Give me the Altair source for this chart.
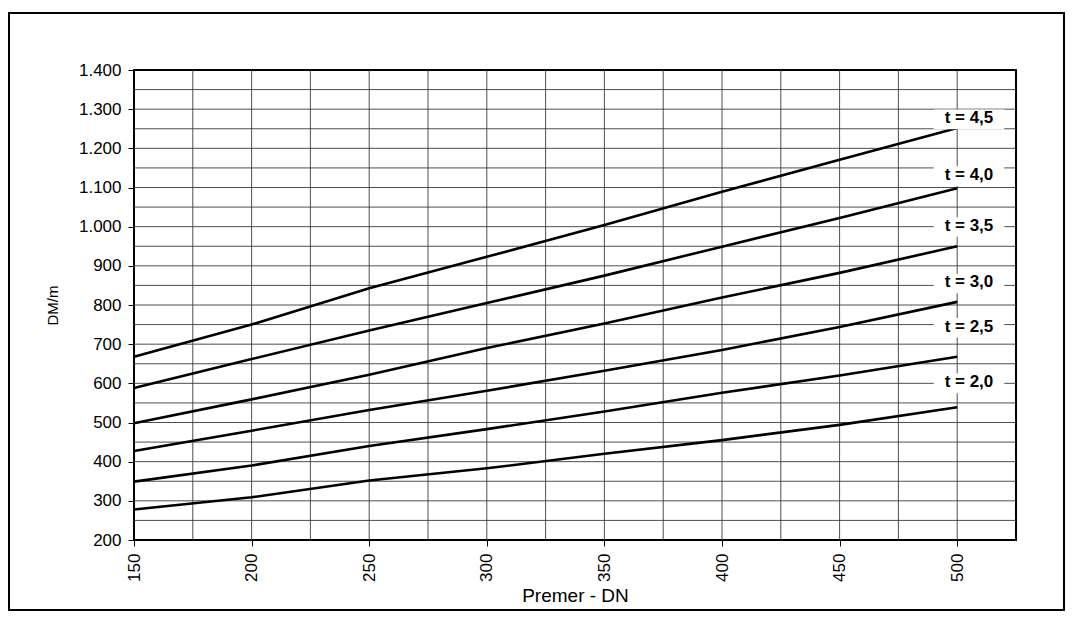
import altair as alt
import pandas as pd

# ---- data ----
dn = [150, 200, 250, 300, 350, 400, 450, 500]
t_20 = [278, 309, 352, 383, 420, 455, 494, 539]
t_25 = [349, 390, 440, 483, 528, 576, 620, 668]
t_30 = [427, 479, 532, 581, 632, 685, 744, 808]
t_35 = [498, 559, 622, 690, 753, 819, 882, 950]
t_40 = [588, 662, 735, 805, 875, 949, 1022, 1098]
t_45 = [668, 750, 843, 923, 1004, 1089, 1171, 1252]

series_names = ["t = 2,0", "t = 2,5", "t = 3,0", "t = 3,5", "t = 4,0", "t = 4,5"]
series_values = [t_20, t_25, t_30, t_35, t_40, t_45]

label_x = [505, 505, 505, 505, 505, 505]
label_y = [603, 745, 858, 1002, 1132, 1277]

x_tick_values = [150, 200, 250, 300, 350, 400, 450, 500]
y_tick_values = [200, 300, 400, 500, 600, 700, 800, 900, 1000, 1100, 1200, 1300, 1400]
grid_x = [175, 200, 225, 250, 275, 300, 325, 350, 375, 400, 425, 450, 475, 500]
grid_y = [250, 300, 350, 400, 450, 500, 550, 600, 650, 700, 750, 800, 850, 900,
          950, 1000, 1050, 1100, 1150, 1200, 1250, 1300, 1350]

rows = []
for name, vals in zip(series_names, series_values):
    for x, v in zip(dn, vals):
        rows.append({"series": name, "dn": x, "val": v})
df = pd.DataFrame(rows)

lab = pd.DataFrame({"series": series_names, "lx": label_x, "ly": label_y})
lab["bx1"] = lab["lx"] - 15
lab["bx2"] = lab["lx"] + 15
lab["by1"] = lab["ly"] - 28
lab["by2"] = lab["ly"] + 22

FONT = "Liberation Sans"

xscale = alt.Scale(domain=[150, 525], nice=False, zero=False)
yscale = alt.Scale(domain=[200, 1400], nice=False, zero=False)

xaxis = alt.Axis(values=x_tick_values, labelAngle=270, grid=False, domain=False,
                 title="Premer - DN", titleFontSize=19, titleFontWeight="normal",
                 titlePadding=5, labelFontSize=17, labelPadding=7, tickSize=6,
                 tickColor="black", labelColor="black", titleColor="black",
                 labelFont=FONT, titleFont=FONT)
yaxis = alt.Axis(values=y_tick_values, grid=False, domain=False,
                 labelExpr="replace(format(datum.value, ','), ',', '.')",
                 title="DM/m", titleFontSize=15, titleFontWeight="normal",
                 titlePadding=18, labelFontSize=17, labelPadding=7, tickSize=6,
                 tickColor="black", labelColor="black", titleColor="black",
                 labelFont=FONT, titleFont=FONT)

vgrid = alt.Chart(pd.DataFrame({"gx": grid_x})).mark_rule(
    color="#3a3a3a", strokeWidth=0.9).encode(
    x=alt.X("gx:Q", scale=xscale, axis=xaxis))
hgrid = alt.Chart(pd.DataFrame({"gy": grid_y})).mark_rule(
    color="#3a3a3a", strokeWidth=0.9).encode(
    y=alt.Y("gy:Q", scale=yscale, axis=yaxis))

lines = alt.Chart(df).mark_line(color="black", strokeWidth=2.6).encode(
    x=alt.X("dn:Q", scale=xscale, axis=xaxis),
    y=alt.Y("val:Q", scale=yscale, axis=yaxis),
    detail="series:N",
)

boxes = alt.Chart(lab).mark_rect(fill="white").encode(
    x=alt.X("bx1:Q", scale=xscale, axis=xaxis), x2="bx2:Q",
    y=alt.Y("by1:Q", scale=yscale, axis=yaxis), y2="by2:Q",
)

texts = alt.Chart(lab).mark_text(font=FONT, fontSize=17, fontWeight="bold",
                                 color="black", align="center",
                                 baseline="middle").encode(
    x=alt.X("lx:Q", scale=xscale, axis=xaxis),
    y=alt.Y("ly:Q", scale=yscale, axis=yaxis),
    text="series:N",
)

frame = alt.Chart(pd.DataFrame({"a": [0]})).mark_rect(
    fill="transparent", stroke="black", strokeWidth=2).encode(
    x=alt.value(-125), x2=alt.value(930), y=alt.value(-57), y2=alt.value(540))

chart = alt.layer(vgrid, hgrid, lines, boxes, texts, frame).properties(
    width=882, height=470,
    autosize=alt.AutoSizeParams(type="none"),
    padding={"left": 126, "top": 62, "right": 50, "bottom": 72},
    background="white",
).configure_view(stroke="black", strokeWidth=2)

chart.save("out.html", embed_options={"renderer": "svg", "actions": False})
